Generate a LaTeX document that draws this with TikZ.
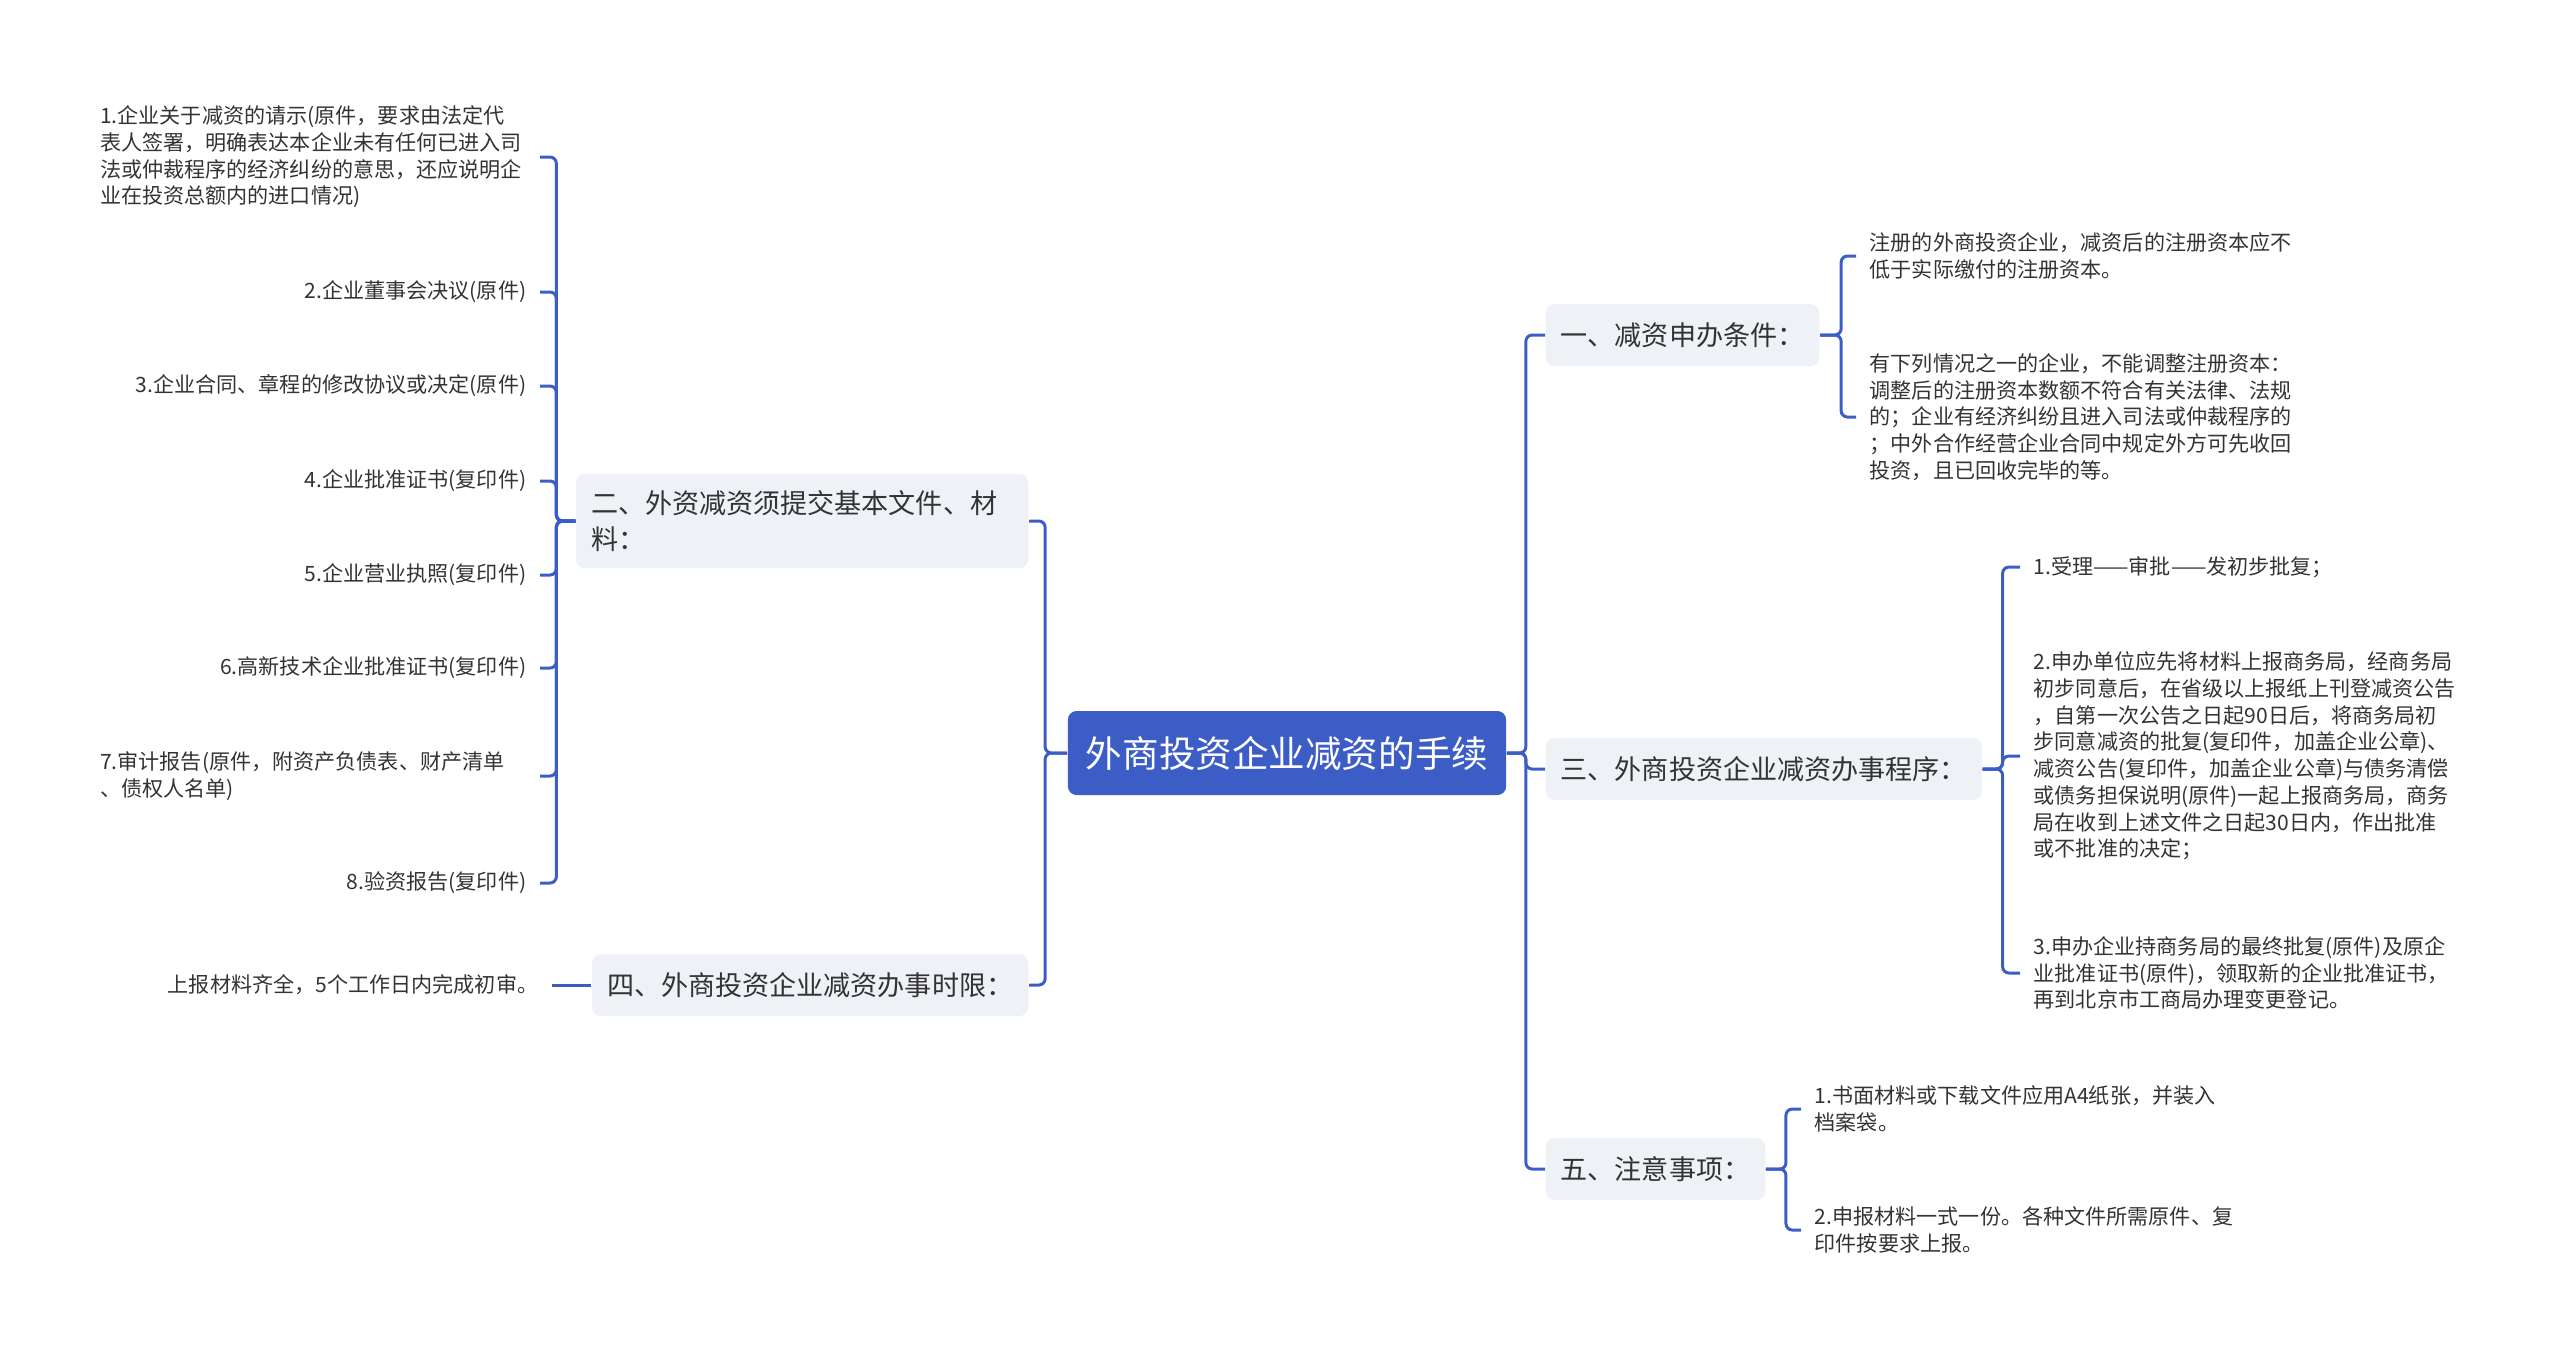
\documentclass[tikz,border=0pt]{standalone}
\usepackage{fontspec}
\setmainfont{Noto Sans CJK SC}
\definecolor{mapblue}{HTML}{3D5DC6}
\definecolor{topicgray}{HTML}{EEF1F5}
\definecolor{inkgray}{HTML}{333333}

\begin{document}
\begin{tikzpicture}[x=0.01cm, y=-0.01cm,
root/.style={fill=mapblue, text=white, rounded corners=2.5pt, inner xsep=0.18cm, minimum height=0.84cm, font=\fontsize{10.4}{12}\selectfont},
topic/.style={fill=topicgray, text=inkgray, rounded corners=2.5pt, inner xsep=0.15cm, inner ysep=0.17cm, minimum height=0.62cm, align=left, font=\fontsize{7.7}{10}\selectfont},
leaf/.style={text=inkgray, inner xsep=0.13cm, inner ysep=2pt, align=left, font=\fontsize{6}{7.6}\selectfont},
link/.style={draw=mapblue, line width=0.85pt, rounded corners=1.8pt}]
%
\useasboundingbox (0,0) rectangle (2560,1359);
\node[root] (root) at (1287,753) {外商投资企业减资的手续};
% right side
\node[topic, anchor=west] (cond) at (1545,335) {一、减资申办条件：};
\node[topic, anchor=west] (proc) at (1545,769) {三、外商投资企业减资办事程序：};
\node[topic, anchor=west] (note) at (1545,1169) {五、注意事项：};
\node[leaf, anchor=west] (cond1) at (1856,256) {注册的外商投资企业，减资后的注册资本应不\\低于实际缴付的注册资本。};
\node[leaf, anchor=west] (cond2) at (1856,417) {有下列情况之一的企业，不能调整注册资本：\\调整后的注册资本数额不符合有关法律、法规\\的；企业有经济纠纷且进入司法或仲裁程序的\\；中外合作经营企业合同中规定外方可先收回\\投资，且已回收完毕的等。};
\node[leaf, anchor=west] (proc1) at (2020,567) {1.受理——审批——发初步批复；};
\node[leaf, anchor=west] (proc2) at (2020,756) {2.申办单位应先将材料上报商务局，经商务局\\初步同意后，在省级以上报纸上刊登减资公告\\，自第一次公告之日起90日后，将商务局初\\步同意减资的批复(复印件，加盖企业公章)、\\减资公告(复印件，加盖企业公章)与债务清偿\\或债务担保说明(原件)一起上报商务局，商务\\局在收到上述文件之日起30日内，作出批准\\或不批准的决定；};
\node[leaf, anchor=west] (proc3) at (2020,973) {3.申办企业持商务局的最终批复(原件)及原企\\业批准证书(原件)，领取新的企业批准证书，\\再到北京市工商局办理变更登记。};
\node[leaf, anchor=west] (note1) at (1801,1109) {1.书面材料或下载文件应用A4纸张，并装入\\档案袋。};
\node[leaf, anchor=west] (note2) at (1801,1230) {2.申报材料一式一份。各种文件所需原件、复\\印件按要求上报。};
% left side
\node[topic, anchor=east, text width=4.22cm] (docs) at (1029,521) {二、外资减资须提交基本文件、材\\料：};
\node[topic, anchor=east] (limit) at (1029,985) {四、外商投资企业减资办事时限：};
\node[leaf, anchor=east, text width=4.26cm] (doc1) at (540,157) {1.企业关于减资的请示(原件，要求由法定代\\表人签署，明确表达本企业未有任何已进入司\\法或仲裁程序的经济纠纷的意思，还应说明企\\业在投资总额内的进口情况)};
\node[leaf, anchor=east] (doc2) at (540,292) {2.企业董事会决议(原件)};
\node[leaf, anchor=east] (doc3) at (540,386) {3.企业合同、章程的修改协议或决定(原件)};
\node[leaf, anchor=east] (doc4) at (540,481) {4.企业批准证书(复印件)};
\node[leaf, anchor=east] (doc5) at (540,575) {5.企业营业执照(复印件)};
\node[leaf, anchor=east] (doc6) at (540,668) {6.高新技术企业批准证书(复印件)};
\node[leaf, anchor=east, text width=4.26cm] (doc7) at (540,776) {7.审计报告(原件，附资产负债表、财产清单\\、债权人名单)};
\node[leaf, anchor=east] (doc8) at (540,883) {8.验资报告(复印件)};
\node[leaf, anchor=east] (limit1) at (552,985) {上报材料齐全，5个工作日内完成初审。};
% connectors
\draw[link] (root.east) -- ++(19,0) |- (cond.west);
\draw[link] (root.east) -- ++(19,0) |- (proc.west);
\draw[link] (root.east) -- ++(19,0) |- (note.west);
\draw[link] (root.west) -- ++(-22,0) |- (docs.east);
\draw[link] (root.west) -- ++(-22,0) |- (limit.east);
\draw[link] (cond.east) -- ++(21,0) |- (cond1.west);
\draw[link] (cond.east) -- ++(21,0) |- (cond2.west);
\draw[link] (proc.east) -- ++(20,0) |- (proc1.west);
\draw[link] (proc.east) -- ++(20,0) |- (proc2.west);
\draw[link] (proc.east) -- ++(20,0) |- (proc3.west);
\draw[link] (note.east) -- ++(20,0) |- (note1.west);
\draw[link] (note.east) -- ++(20,0) |- (note2.west);
\draw[link] (docs.west) -- ++(-19,0) |- (doc1.east);
\draw[link] (docs.west) -- ++(-19,0) |- (doc2.east);
\draw[link] (docs.west) -- ++(-19,0) |- (doc3.east);
\draw[link] (docs.west) -- ++(-19,0) |- (doc4.east);
\draw[link] (docs.west) -- ++(-19,0) |- (doc5.east);
\draw[link] (docs.west) -- ++(-19,0) |- (doc6.east);
\draw[link] (docs.west) -- ++(-19,0) |- (doc7.east);
\draw[link] (docs.west) -- ++(-19,0) |- (doc8.east);
\draw[link] (limit.west) -- (limit1.east);
\end{tikzpicture}
\end{document}
